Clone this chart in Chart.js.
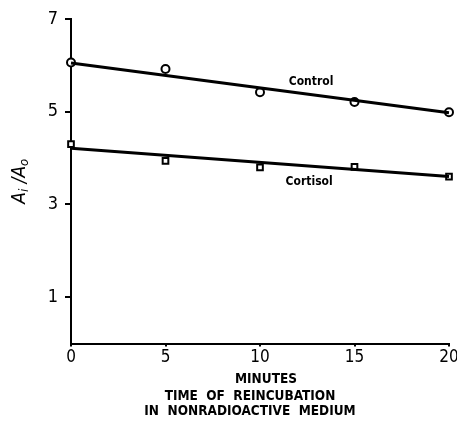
<!DOCTYPE html>
<html>
<head>
<meta charset="utf-8">
<script src="https://cdn.jsdelivr.net/npm/chart.js@4/dist/chart.umd.min.js"></script>
<style>
  html, body { margin: 0; padding: 0; background: #fff; }
  #wrap { width: 457px; height: 424px; }
</style>
</head>
<body>
<div id="wrap"><canvas id="chart"></canvas></div>
<script>
// data
var minutes = [0, 5, 10, 15, 20];
var controlValues = [6.06, 5.92, 5.42, 5.21, 4.99];
var cortisolValues = [4.30, 3.94, 3.80, 3.81, 3.60];
var fitMinutes = [0, 20];
var controlFit = [6.05, 4.98];
var cortisolFit = [4.21, 3.60];
var xTicks = [0, 5, 10, 15, 20];
var yTicks = [1, 3, 5, 7];

function pts(xs, ys) {
    return xs.map(function (x, i) { return { x: x, y: ys[i] }; });
}

var font = "'DejaVu Sans Condensed', 'DejaVu Sans', sans-serif";

// texts drawn by hand: y title with subscripts, series names, x title lines
var textPlugin = {
    id: 'texts',
    afterDraw: function (chart) {
        var c = chart.ctx;
        var xs = chart.scales.x, ys = chart.scales.y;
        c.save();
        c.fillStyle = '#000';
        c.textBaseline = 'middle';
        c.textAlign = 'center';
        c.font = 'bold 12px ' + font;
        c.fillText('Control', xs.getPixelForValue(12.7), ys.getPixelForValue(5.64));
        c.fillText('Cortisol', xs.getPixelForValue(12.6), ys.getPixelForValue(3.48));

        c.font = 'bold 13.5px ' + font;
        c.fillText('MINUTES', 266, 379);
        c.fillText('TIME  OF  REINCUBATION', 250, 396);
        c.fillText('IN  NONRADIOACTIVE  MEDIUM', 250, 411);

        // A_i / A_o rotated
        c.translate(20, (chart.chartArea.top + chart.chartArea.bottom) / 2);
        c.rotate(-Math.PI / 2);
        var parts = [
            ['A', 'italic 19px ' + font, 0],
            ['i', 'italic 13px ' + font, 5],
            [' /', 'italic 19px ' + font, 0],
            ['A', 'italic 19px ' + font, 0],
            ['o', 'italic 13px ' + font, 5]
        ];
        var total = 0;
        parts.forEach(function (p) { c.font = p[1]; total += c.measureText(p[0]).width; });
        var x = -total / 2;
        c.textAlign = 'left';
        parts.forEach(function (p) {
            c.font = p[1];
            c.fillText(p[0], x, p[2]);
            x += c.measureText(p[0]).width;
        });
        c.restore();
    }
};

var markerStyle = {
    showLine: false,
    pointRadius: 4,
    pointBorderWidth: 2,
    pointBorderColor: '#000',
    pointBackgroundColor: '#fff',
    clip: false
};

new Chart(document.getElementById('chart'), {
    type: 'scatter',
    data: {
        datasets: [
            {
                label: 'Control fit', data: pts(fitMinutes, controlFit), showLine: true,
                borderColor: '#000', borderWidth: 3, pointRadius: 0, clip: false
            },
            {
                label: 'Cortisol fit', data: pts(fitMinutes, cortisolFit), showLine: true,
                borderColor: '#000', borderWidth: 3, pointRadius: 0, clip: false
            },
            Object.assign({ label: 'Control', data: pts(minutes, controlValues), pointStyle: 'circle' }, markerStyle),
            Object.assign({ label: 'Cortisol', data: pts(minutes, cortisolValues), pointStyle: 'rect', pointRadius: 4.5 }, markerStyle)
        ]
    },
    options: {
        responsive: true,
        maintainAspectRatio: false,
        animation: false,
        layout: { padding: { top: 19, right: 8, left: 0, bottom: 0 } },
        plugins: {
            legend: { display: false },
            tooltip: { enabled: false }
        },
        scales: {
            x: {
                type: 'linear',
                min: 0,
                max: 20,
                afterBuildTicks: function (s) { s.ticks = xTicks.map(function (v) { return { value: v }; }); },
                afterFit: function (s) { s.height = 80.5; s.paddingLeft = 0; s.paddingRight = 0; },
                border: { display: true, color: '#000', width: 2 },
                grid: { drawOnChartArea: false, drawTicks: true, tickLength: 3, color: '#000', lineWidth: 2 },
                ticks: { color: '#000', padding: 1, maxRotation: 0, font: { family: font, size: 17 } }
            },
            y: {
                min: 0,
                max: 7,
                afterBuildTicks: function (s) { s.ticks = yTicks.map(function (v) { return { value: v }; }); },
                afterFit: function (s) { s.width = 71; s.paddingTop = 0; s.paddingBottom = 0; },
                border: { display: true, color: '#000', width: 2 },
                grid: { drawOnChartArea: false, drawTicks: true, tickLength: 6, color: '#000', lineWidth: 2 },
                ticks: { color: '#000', padding: 7, font: { family: font, size: 18 } }
            }
        }
    },
    plugins: [textPlugin]
});
</script>
</body>
</html>
